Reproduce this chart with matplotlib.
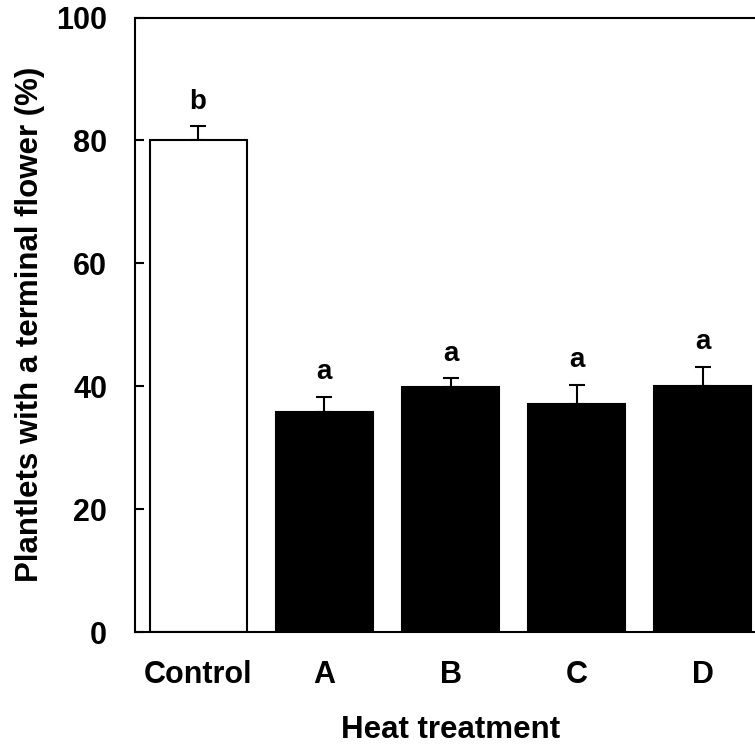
import matplotlib.pyplot as plt
import numpy as np

plt.rcParams["font.family"] = ["Liberation Sans", "DejaVu Sans"]
plt.rcParams["font.weight"] = "bold"

categories = ["Control", "A", "B", "C", "D"]
values = [80.0, 35.8, 39.9, 37.1, 40.1]
errors = [2.3, 2.5, 1.4, 3.1, 3.1]
letters = ["b", "a", "a", "a", "a"]
bar_colors = ["white", "black", "black", "black", "black"]

W, H = 755, 744
fig = plt.figure(figsize=(W / 100, H / 100), dpi=100)
# axes run past the right edge of the figure, as in the reference
ax = fig.add_axes([135 / W, (H - 632) / H, (766 - 135) / W, (632 - 17.5) / H])

x = np.arange(len(categories))
ax.bar(x, values, width=0.77, color=bar_colors, edgecolor="black", linewidth=1.5, zorder=2)
ax.errorbar(x, values, yerr=[np.zeros(len(values)), errors], fmt="none",
            ecolor="black", elinewidth=1.5, capsize=5.5, capthick=1.5, zorder=1)
for xi, v, e, l in zip(x, values, errors, letters):
    ax.text(xi, v + e + 1.9, l, ha="center", va="bottom", fontsize=20, fontweight="bold")

ax.set_xlim(-0.5, 4.5)
ax.set_ylim(0, 100)
ax.set_yticks([0, 20, 40, 60, 80, 100])
ax.set_xticks(x)
ax.set_xticklabels(categories)
ax.tick_params(axis="y", direction="in", length=6.5, width=1.5, pad=20, labelsize=22)
ax.tick_params(axis="x", length=0, pad=20, labelsize=22)
for lab in ax.get_xticklabels() + ax.get_yticklabels():
    lab.set_fontweight("bold")
for s in ax.spines.values():
    s.set_linewidth(1.5)

ax.set_xlabel("Heat treatment", fontsize=22.5, fontweight="bold", labelpad=18)
ax.set_ylabel("Plantlets with a terminal flower (%)", fontsize=22.5, fontweight="bold", labelpad=8)

fig.savefig("out.png", dpi=100)
